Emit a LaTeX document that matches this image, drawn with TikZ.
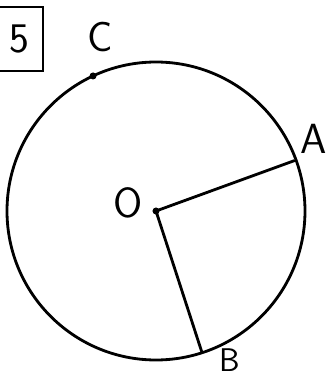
\documentclass[tikz,border=0pt]{standalone}
\usetikzlibrary{positioning,calc}

\begin{document}
\begin{tikzpicture}[
    x=0.03cm,y=0.03cm,
    stroke/.style={line width=2.4pt,line cap=round},
    lbl/.style={font=\sffamily\fontsize{36}{36}\selectfont,inner sep=0pt},
    numbox/.style={draw,line width=1.8pt,font=\sffamily\fontsize{36}{36}\selectfont,minimum width=1.44cm,minimum height=1.92cm},
    pt/.style={circle,fill,inner sep=0pt,minimum size=6pt}
]
    \useasboundingbox (0,0) rectangle (329,379);
    %Circle
    \coordinate (O) at (156,168);
    \draw[stroke] (O) circle[radius=149];
    \node[pt] (Odot) at (O) {};
    \coordinate (A) at ($(O)+(20:147)$);
    \coordinate (B) at ($(O)+(-72:148)$);
    \node[pt] (C) at ($(O)+(115:149)$) {};
    %Radii
    \draw[stroke] (O) -- (A);
    \draw[stroke] (O) -- (B);
    %Labels
    \node[lbl] (labO) at (128,176) {O};
    \node[lbl] (labA) at ([shift={(20,22)}]A) {A};
    \node[lbl,font=\sffamily\fontsize{28}{28}\selectfont] (labB) at ([shift={(28,-8)}]B) {B};
    \node[lbl] (labC) at (100,342) {C};
    \node[numbox] (num) at (19,340) {5};
\end{tikzpicture}
\end{document}
